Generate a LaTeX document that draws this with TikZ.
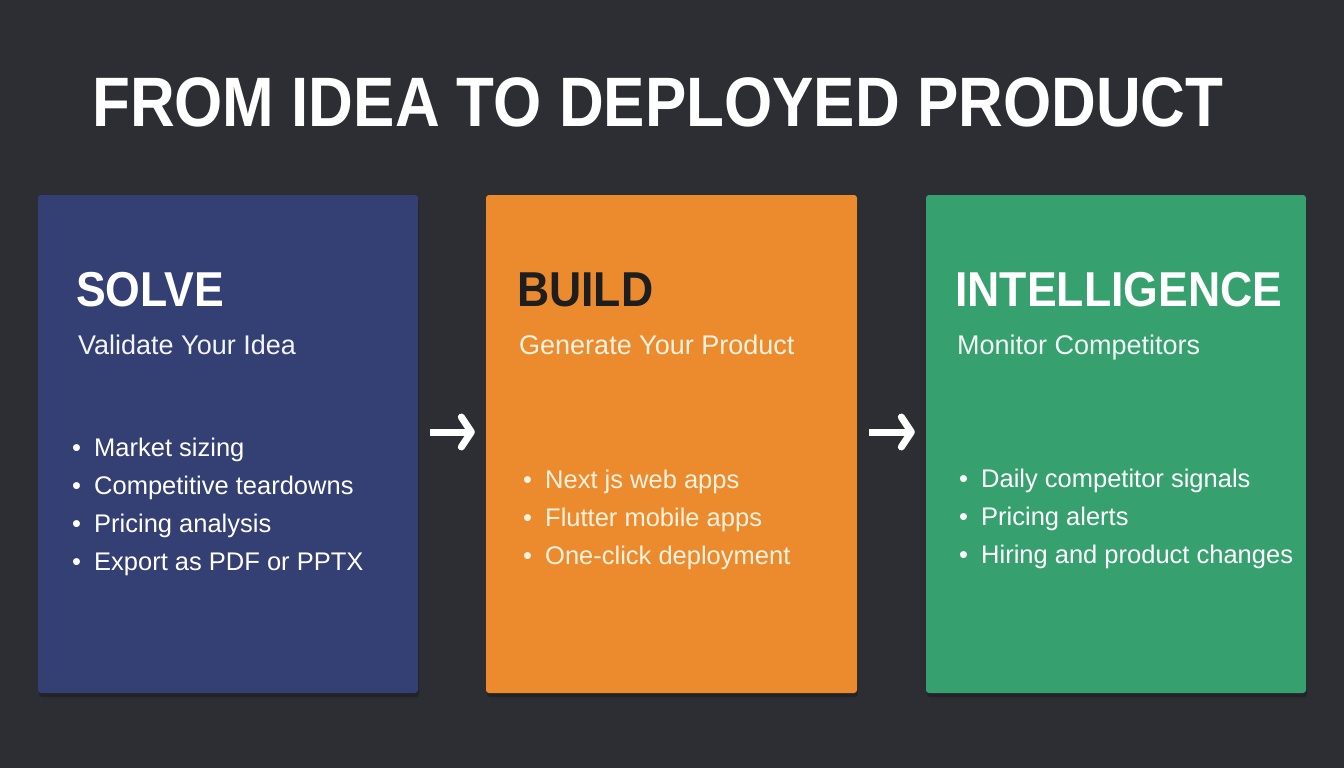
\documentclass[tikz,border=0pt]{standalone}
\usepackage{fontspec}
\setmainfont{Liberation Sans}
\newfontfamily\headfont[FakeStretch=0.91]{Liberation Sans}
\newfontfamily\titlefont[FakeStretch=0.885]{Liberation Sans}
\usetikzlibrary{positioning, arrows.meta, shadows}

\definecolor{bgdark}{HTML}{2C2E33}
\definecolor{solveblue}{HTML}{343F74}
\definecolor{buildorange}{HTML}{EC8A2E}
\definecolor{intelgreen}{HTML}{37A06F}
\definecolor{builddark}{HTML}{1E1E1E}
\definecolor{creamtxt}{HTML}{FFF3E0}

\begin{document}
\begin{tikzpicture}[x=1pt, y=-1pt,
    card/.style={rounded corners=3pt, minimum width=380pt, minimum height=498pt, inner sep=0pt,
        drop shadow={shadow xshift=1pt, shadow yshift=-4pt, opacity=0.22, fill=black}},
    head/.style={anchor=base west, inner sep=0pt, font=\headfont\fontsize{49}{49}\bfseries\selectfont},
    sub/.style={anchor=base west, inner sep=0pt, font=\fontsize{27}{27}\selectfont},
    item/.style={anchor=base west, inner sep=0pt, font=\fontsize{25.5}{25.5}\selectfont},
    flow/.style={white, line width=7pt, -{Straight Barb[length=10pt, width=30pt, round]},
        shorten <=12pt, shorten >=11pt}]
    \fill[bgdark] (0,0) rectangle (1344,768);
    \useasboundingbox (0,0) rectangle (1344,768);

    \node[anchor=base west, inner sep=0pt, text=white,
        font=\titlefont\fontsize{70}{70}\bfseries\selectfont] (title) at (92,126)
        {FROM IDEA TO DEPLOYED PRODUCT};

    % the three stages
    \node[card, fill=solveblue] (solve) at (228,444) {};
    \node[card, fill=buildorange, minimum width=371pt] (build) at (671.5,444) {};
    \node[card, fill=intelgreen] (intel) at (1116,444) {};

    \node[head, text=white] (solveH) at (76,306) {SOLVE};
    \node[sub, text=white!94!solveblue] (solveS) at (78,354) {Validate Your Idea};

    \node[head, text=builddark] (buildH) at (517,306) {BUILD};
    \node[sub, text=creamtxt] (buildS) at (519,354) {Generate Your Product};

    \node[head, text=white] (intelH) at (955,306) {INTELLIGENCE};
    \node[sub, text=white!94!intelgreen] (intelS) at (957,354) {Monitor Competitors};

    % bullet lists
    \foreach \txt [count=\i from 0] in {Market sizing, Competitive teardowns,
        Pricing analysis, Export as PDF or PPTX}
        \node[item, text=white] (solve\i) at (72,456+38.2*\i)
            {\makebox[22pt][l]{\textbullet}\txt};
    \foreach \txt [count=\i from 0] in {Next js web apps, Flutter mobile apps,
        One-click deployment}
        \node[item, text=creamtxt] (build\i) at (523,488+38.2*\i)
            {\makebox[22pt][l]{\textbullet}\txt};
    \foreach \txt [count=\i from 0] in {Daily competitor signals, Pricing alerts,
        Hiring and product changes}
        \node[item, text=white] (intel\i) at (959,487+38.2*\i)
            {\makebox[22pt][l]{\textbullet}\txt};

    \draw[flow] ([yshift=12pt]solve.east) -- ([yshift=12pt]build.west);
    \draw[flow] ([yshift=12pt]build.east) -- ([yshift=12pt]intel.west);
\end{tikzpicture}
\end{document}
